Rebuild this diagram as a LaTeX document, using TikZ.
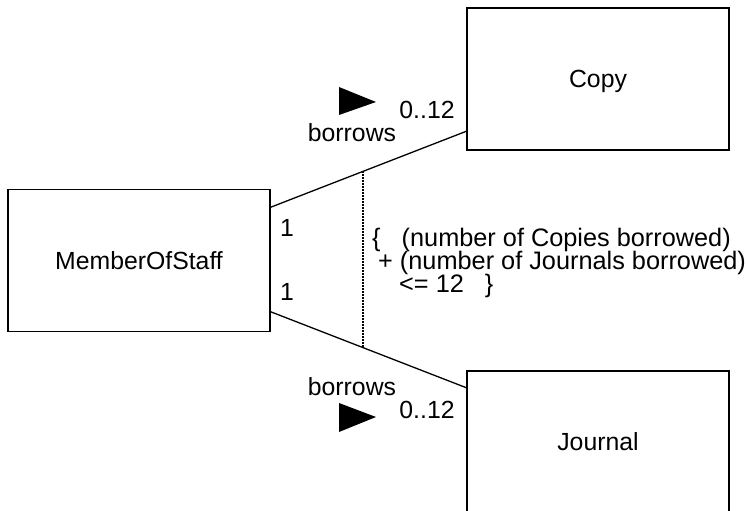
\documentclass[tikz,border=0pt]{standalone}
\usepackage{fontspec}
\setmainfont{Liberation Sans}
\usetikzlibrary{calc}
\begin{document}
\begin{tikzpicture}[x=1pt,y=-1pt,
  box/.style={draw, line width=1.3pt, minimum width=262pt, minimum height=142pt,
    inner sep=0pt, outer sep=0pt, text height=17.5pt, text depth=0pt,
    font=\fontsize{24.8}{23}\selectfont},
  lbl/.style={anchor=base, inner sep=0pt, font=\fontsize{24.8}{23}\selectfont},
  cline/.style={anchor=base west, inner sep=0pt, font=\fontsize{25.3}{23}\selectfont},
  link/.style={line width=1.3pt},
  constraintline/.style={line width=1.4pt, dash pattern=on 1.4pt off 1.6pt},
  navarrow/.style={fill=black}]
\useasboundingbox (0,0) rectangle (748,511);
% classes
\node[box] (ms)   at (139,260.5) {MemberOfStaff};
\node[box] (copy) at (598,79)    {Copy};
\node[box] (jour) at (598,442)   {Journal};
% association ends
\coordinate (u1) at ($(ms.north east)+(0,18)$);
\coordinate (u2) at ($(copy.south west)+(0,-19)$);
\coordinate (l1) at ($(ms.south east)+(0,-20)$);
\coordinate (l2) at ($(jour.north west)+(0,17)$);
\draw[link] (u1) -- coordinate[pos=0.472] (du) (u2);
\draw[link] (l1) -- coordinate[pos=0.472] (dl) (l2);
\draw[constraintline] (du) -- (dl);
% direction triangles
\fill[navarrow] (339,87) -- (339,115) -- (376,102) -- cycle;
\fill[navarrow] (339,403) -- (339,432) -- (376,417) -- cycle;
% labels
\node[lbl] (b1) at (352,142) {borrows};
\node[lbl] (m1) at (427,119) {0..12};
\node[lbl] (b2) at (352,395) {borrows};
\node[lbl] (m2) at (427,418) {0..12};
\node[lbl] (o1) at (287,236) {1};
\node[lbl] (o2) at (287,300) {1};
% constraint
\node[cline] (c1) at (372,246) {\{\ \ \ (number of Copies borrowed)};
\node[cline] (c2) at (378,269) {+ (number of Journals borrowed)};
\node[cline] (c3) at (399,292) {<= 12\ \ \ \}};
\end{tikzpicture}
\end{document}
